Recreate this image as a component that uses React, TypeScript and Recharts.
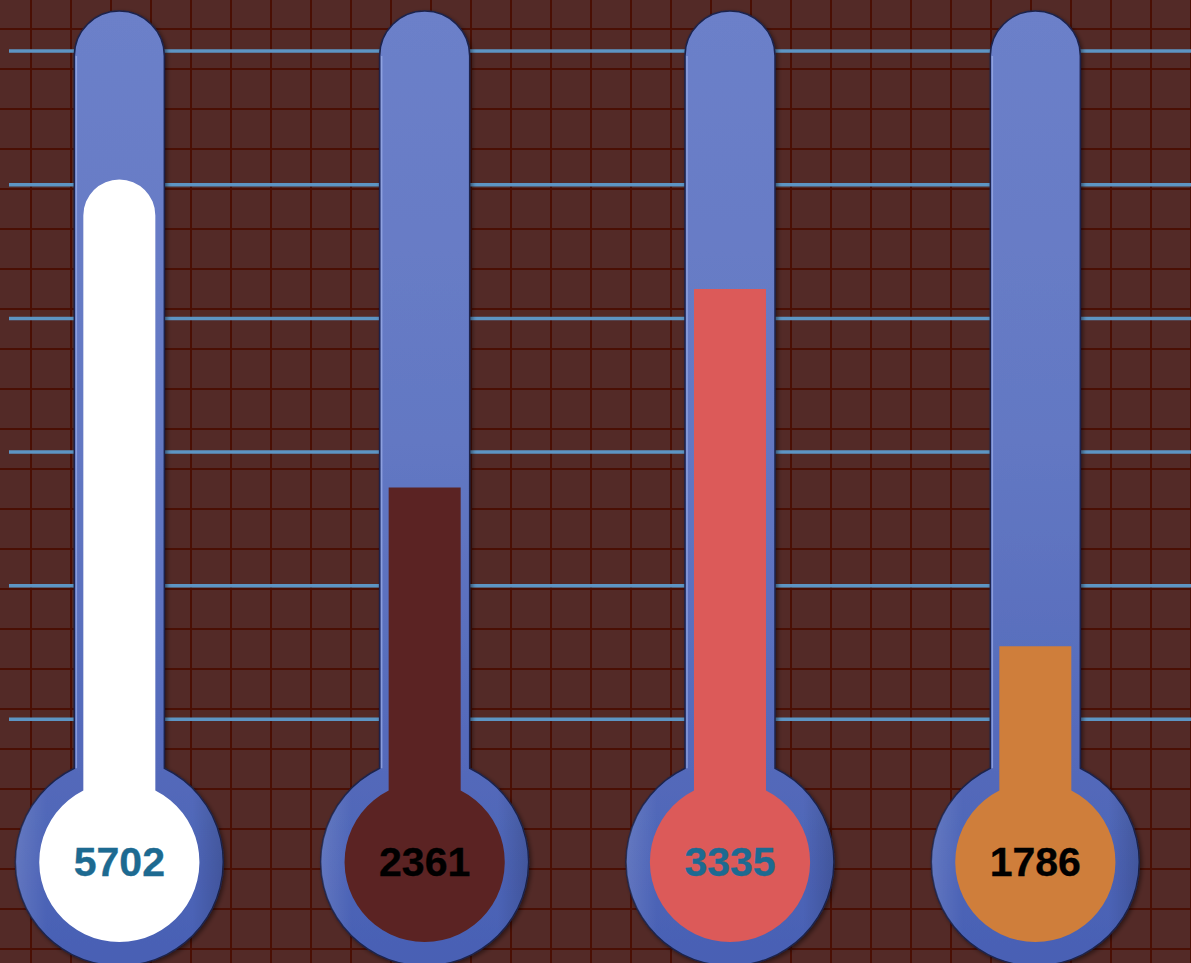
import React from 'react';
import { ComposedChart, Bar, XAxis, YAxis, CartesianGrid } from 'recharts';

// ---- data ----
const categories = ['T1', 'T2', 'T3', 'T4'];
const values = [5702, 2361, 3335, 1786];
const levels = [5.04, 2.735, 4.22, 1.547];
const yTicks = [1, 2, 3, 4, 5, 6];

// ---- styles ----
const fillColors = ['#ffffff', '#5b2323', '#dc5a59', '#cf7e3b'];
const labelColors = ['#1d6a91', '#000000', '#1d6a91', '#000000'];
const roundTops = [true, false, false, false];

const data = categories.map((name, i) => ({
  name,
  level: levels[i],
  value: values[i],
  fill: fillColors[i],
  labelColor: labelColors[i],
  roundTop: roundTops[i],
}));

const W = 1191;
const H = 963;

const Tube = (props: any) => {
  const { x, y, width, height } = props;
  const cx = x + width / 2;
  const hw = width / 2;
  const top = y;
  const base = y + height;
  const by = base + width * 0.1;
  const R = width * 1.155;
  const dy = Math.sqrt(R * R - hw * hw);
  const d = `M ${cx - hw} ${by - dy} L ${cx - hw} ${top + hw} A ${hw} ${hw} 0 0 1 ${cx + hw} ${top + hw} L ${cx + hw} ${by - dy} A ${R} ${R} 0 1 1 ${cx - hw} ${by - dy} Z`;
  return (
    <g>
      <path d={d} fill="url(#tubeGrad)" stroke="#1c244c" strokeWidth={1.5} filter="url(#tubeShadow)" />
      <path d={d} fill="url(#tubeShade)" stroke="none" />
      <path
        d={`M ${cx - hw + 2} ${by - dy} L ${cx - hw + 2} ${top + hw}`}
        stroke="#9fb0ea"
        strokeWidth={1.5}
        opacity={0.7}
        fill="none"
      />
    </g>
  );
};

const Mercury = (props: any) => {
  const { x, y, width, height, payload } = props;
  const cx = x + width / 2;
  const base = y + height;
  const by = base + width * 0.1;
  const fw = width * 0.4;
  const r = width * 0.89;
  const dy = Math.sqrt(r * r - fw * fw);
  let topPart: string;
  if (payload.roundTop) {
    topPart = `L ${cx - fw} ${y + fw} A ${fw} ${fw} 0 0 1 ${cx + fw} ${y + fw}`;
  } else {
    topPart = `L ${cx - fw} ${y} L ${cx + fw} ${y}`;
  }
  const d = `M ${cx - fw} ${by - dy} ${topPart} L ${cx + fw} ${by - dy} A ${r} ${r} 0 1 1 ${cx - fw} ${by - dy} Z`;
  return (
    <g>
      <path d={d} fill={payload.fill} stroke="none" />
      <text
        x={cx}
        y={by}
        textAnchor="middle"
        dominantBaseline="central"
        fontFamily="'Liberation Sans', Arial, sans-serif"
        fontWeight="bold"
        fontSize={41}
        fill={payload.labelColor}
        stroke={payload.labelColor}
        strokeWidth={0.35}
      >
        {payload.value}
      </text>
    </g>
  );
};

export default function App() {
  const band = 305.33;
  const plotLeft = 9;
  const firstCenter = 119;
  const padLeft = firstCenter - band / 2 - plotLeft;
  const padRight = W - (plotLeft + padLeft + band * 4);
  return (
    <div
      style={{
        position: 'absolute',
        left: 0,
        top: 0,
        width: W,
        height: H,
        overflow: 'hidden',
        backgroundColor: '#532a27',
        backgroundImage:
          'linear-gradient(to right, #4a0f04 2px, transparent 2px), linear-gradient(to bottom, #4a0f04 2px, transparent 2px)',
        backgroundSize: '40px 40px',
        backgroundPosition: '30px 28px',
      }}
    >
      <ComposedChart
        width={W}
        height={H}
        data={data}
        margin={{ top: 11, right: 0, bottom: 110, left: plotLeft }}
      >
        <defs>
          <linearGradient id="tubeGrad" x1="0" y1="0" x2="0" y2="1">
            <stop offset="0%" stopColor="#6c80c9" />
            <stop offset="45%" stopColor="#6378c3" />
            <stop offset="80%" stopColor="#5369ba" />
            <stop offset="100%" stopColor="#4860b4" />
          </linearGradient>
          <linearGradient id="tubeShade" x1="0" y1="0" x2="1" y2="0">
            <stop offset="0%" stopColor="#ffffff" stopOpacity={0.12} />
            <stop offset="15%" stopColor="#ffffff" stopOpacity={0} />
            <stop offset="85%" stopColor="#000000" stopOpacity={0} />
            <stop offset="100%" stopColor="#000000" stopOpacity={0.15} />
          </linearGradient>
          <filter id="tubeShadow" x="-20%" y="-5%" width="140%" height="110%">
            <feDropShadow dx="2" dy="2" stdDeviation="2" floodColor="#000000" floodOpacity="0.45" />
          </filter>
        </defs>
        <CartesianGrid
          horizontal
          vertical={false}
          horizontalValues={yTicks}
          stroke="#5d95c4"
          strokeWidth={3.5}
        />
        <XAxis
          dataKey="name"
          hide
          padding={{ left: padLeft, right: padRight }}
        />
        <YAxis hide domain={[0, 6.3]} ticks={yTicks} type="number" />
        <Bar
          dataKey="level"
          barSize={90}
          isAnimationActive={false}
          background={(p: any) => <Tube key={`tube-${p.index}`} {...p} />}
          shape={(p: any) => <Mercury {...p} />}
        />
      </ComposedChart>
    </div>
  );
}
